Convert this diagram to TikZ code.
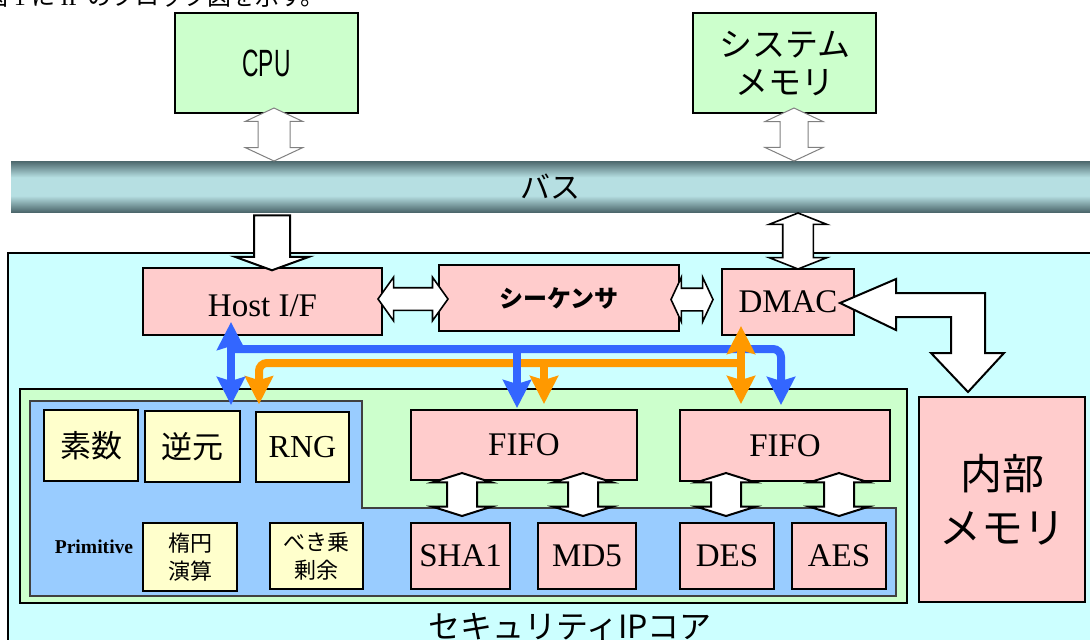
\documentclass[tikz,border=0pt]{standalone}
\usepackage{fontspec}
\setmainfont{Liberation Serif}
\newfontfamily\jp{Noto Sans CJK JP}
\newfontfamily\narrow[FakeStretch=0.6]{Liberation Sans}
\usepackage{xcolor}
\usetikzlibrary{shapes.arrows,arrows.meta}

\definecolor{boxgreen}{HTML}{CCFFCC}
\definecolor{corecyan}{HTML}{CCFFFF}
\definecolor{boxpink}{HTML}{FFCCCC}
\definecolor{boxyellow}{HTML}{FFFFCC}
\definecolor{primblue}{HTML}{99CCFF}
\definecolor{busblue}{HTML}{3366FF}
\definecolor{busorange}{HTML}{FF9900}
\definecolor{busdark}{HTML}{4C676C}
\definecolor{buslight}{HTML}{B6DFE2}
\pgfdeclareverticalshading{busshade}{100bp}{color(0bp)=(busdark); color(25bp)=(busdark); color(41bp)=(buslight); color(59bp)=(buslight); color(75bp)=(busdark); color(100bp)=(busdark)}

\begin{document}
\begin{tikzpicture}[
    x=0.5pt, y=-0.5pt,
    >={Stealth[length=14pt,width=14pt,inset=2pt]},
    blk/.style={draw, line width=1pt, inner sep=0pt},
    unit/.style={blk, fill=boxpink, font=\fontsize{16.5}{18}\selectfont},
    prim/.style={blk, fill=boxyellow, line width=0.8pt},
    barrow/.style={double arrow, draw, fill=white, inner sep=0pt, line width=0.8pt},
    sarrow/.style={single arrow, draw, fill=white, inner sep=0pt, line width=1pt},
    bluebus/.style={draw=busblue, line width=4pt, color=busblue},
    orangebus/.style={draw=busorange, line width=4pt, color=busorange},
  ]
  \useasboundingbox (0,0) rectangle (1090,639);
  \fill[white] (0,0) rectangle (1090,639);
  \clip (0,0) rectangle (1090,639);

  \node[anchor=base west, inner sep=0pt, font=\jp\fontsize{12}{14}\selectfont] (caption) at (-16,5) {図 \textrm{1} に \textrm{IP} のブロック図を示す。};

  \node[blk, fill=boxgreen, minimum width=91.5pt, minimum height=50pt, font=\narrow\fontsize{19}{22}\selectfont] (cpu) at (266.5,63) {CPU};
  \node[blk, fill=boxgreen, minimum width=91.5pt, minimum height=50pt, align=center, font=\jp\fontsize{16.5}{19}\selectfont] (sysmem) at (784.5,63) {システム\\メモリ};

  \node[shading=busshade, minimum width=539.5pt, minimum height=25.5pt, inner sep=0pt, font=\jp\fontsize{15}{17}\selectfont] (bus) at (550.5,186.5) {バス};

  \node[barrow, draw=gray, line width=0.5pt, rotate=90, minimum height=26.5pt, inner ysep=7.75pt, double arrow head extend=6.25pt, double arrow tip angle=130] (cpulink) at (274,134.5) {};
  \node[barrow, draw=gray, line width=0.5pt, rotate=90, minimum height=26.5pt, inner ysep=6.75pt, double arrow head extend=7.5pt, double arrow tip angle=130] (memlink) at (794,134.5) {};

  \node[draw, line width=0.8pt, fill=corecyan, minimum width=546pt, minimum height=203.5pt, inner sep=0pt] (core) at (554,456.5) {};
  \node[font=\jp\fontsize{16}{18}\selectfont] (corelabel) at (570,627) {セキュリティIPコア};

  \node[draw, line width=1pt, fill=boxgreen, minimum width=443.5pt, minimum height=107pt, inner sep=0pt] (engine) at (463.5,496) {};
  \draw[fill=primblue, draw=black!75, line width=0.8pt] (30,401) -- (362,401) -- (362,508) -- (896,508) -- (896,596) -- (30,596) -- cycle;

  \node[unit, minimum width=119.5pt, minimum height=33.5pt, text height=15pt] (hostif) at (262.5,301.5) {Host I/F};
  \node[unit, minimum width=120pt, minimum height=33pt, font=\jp\bfseries\fontsize{12}{14}\selectfont] (seq) at (559,298) {シーケンサ};
  \node[unit, minimum width=66pt, minimum height=33pt] (dmac) at (788,302) {DMAC};
  \node[unit, minimum width=83pt, minimum height=102.5pt, align=center, font=\jp\fontsize{21}{27}\selectfont] (inmem) at (1002,499.5) {内部\\メモリ};

  \node[prim, minimum width=47pt, minimum height=35.5pt, font=\jp\fontsize{15.5}{18}\selectfont] (prime) at (91,445.5) {素数};
  \node[prim, minimum width=47.5pt, minimum height=35.5pt, font=\jp\fontsize{15.5}{18}\selectfont] (inverse) at (192.5,446.5) {逆元};
  \node[prim, minimum width=46.5pt, minimum height=35pt, font=\fontsize{16}{18}\selectfont] (rng) at (302.5,447) {RNG};
  \node[prim, minimum width=47pt, minimum height=34pt, align=center, font=\jp\fontsize{11}{14}\selectfont] (ecc) at (190,557) {楕円\\演算};
  \node[prim, minimum width=46.5pt, minimum height=33pt, align=center, font=\jp\fontsize{11}{14}\selectfont] (modexp) at (316.5,556) {べき乗\\剰余};
  \node[font=\bfseries\fontsize{9.8}{12}\selectfont] (primlabel) at (94,547) {Primitive};

  \node[unit, minimum width=113pt, minimum height=35pt] (fifoA) at (524,445) {FIFO};
  \node[unit, minimum width=105pt, minimum height=35.5pt] (fifoB) at (785,445.5) {FIFO};
  \node[unit, minimum width=49.5pt, minimum height=33pt] (sha) at (460.5,556) {SHA1};
  \node[unit, minimum width=49pt, minimum height=33pt] (md5) at (587,556) {MD5};
  \node[unit, minimum width=47pt, minimum height=33pt] (des) at (727,556) {DES};
  \node[unit, minimum width=47pt, minimum height=33pt] (aes) at (839,556) {AES};

  \node[sarrow, rotate=-90, minimum height=27.5pt, inner ysep=8.5pt, single arrow head extend=9.5pt, single arrow tip angle=140] (hostlink) at (272,239.5) {};
  \node[barrow, rotate=90, minimum height=28pt, inner ysep=7.25pt, double arrow head extend=6.75pt, double arrow tip angle=137] (dmaclink) at (798,241) {};
  \node[barrow, minimum height=35pt, inner ysep=5.25pt, double arrow head extend=5.25pt, double arrow tip angle=109] (hostseq) at (413,299) {};
  \node[barrow, minimum height=21pt, inner ysep=5.25pt, double arrow head extend=5.5pt, double arrow tip angle=130] (seqdmac) at (692,299.5) {};
  \node[barrow, line width=1pt, rotate=90, minimum height=21.5pt, inner ysep=7pt, double arrow head extend=7.25pt, double arrow tip angle=145] (shalink) at (462,494.5) {};
  \node[barrow, line width=1pt, rotate=90, minimum height=21.5pt, inner ysep=7pt, double arrow head extend=7.25pt, double arrow tip angle=145] (md5link) at (583,494.5) {};
  \node[barrow, line width=1pt, rotate=90, minimum height=21.5pt, inner ysep=7pt, double arrow head extend=7.25pt, double arrow tip angle=145] (deslink) at (726,494.5) {};
  \node[barrow, line width=1pt, rotate=90, minimum height=21.5pt, inner ysep=7pt, double arrow head extend=7.25pt, double arrow tip angle=145] (aeslink) at (839,494.5) {};

  \draw[fill=white, line width=1pt] (840,303) -- (896,279) -- (896,293) -- (985,293) -- (985,353) -- (1004,353) -- (968,392) -- (931,353) -- (951,353) -- (951,317) -- (896,317) -- (896,330) -- cycle;

  \coordinate (bL) at (231,349);
  \coordinate (bM) at (517,349);
  \coordinate (bR) at (781,349);
  \coordinate (oL) at (259,363);
  \coordinate (oM) at (544,363);
  \coordinate (oR) at (741,363);

  \draw[orangebus, ->, rounded corners=4pt, shorten >=3.5pt] (oR) -- (oL) -- (oL |- rng.north);
  \draw[bluebus, <->, shorten <=-7pt, shorten >=2pt] (bL |- hostif.south) -- (bL |- fifoA.north);
  \draw[bluebus, ->, rounded corners=4pt, shorten >=2pt] (bL) -- (bR) -- (bR |- fifoB.north);
  \draw[bluebus, ->, shorten >=0.5pt] (bM) -- (bM |- fifoA.north);
  \draw[orangebus, <->, shorten <=-5pt, shorten >=2.5pt] (oR |- dmac.south) -- (oR |- fifoB.north);
  \draw[orangebus, ->, shorten >=2.5pt] (oM) -- (oM |- fifoA.north);
\end{tikzpicture}
\end{document}
